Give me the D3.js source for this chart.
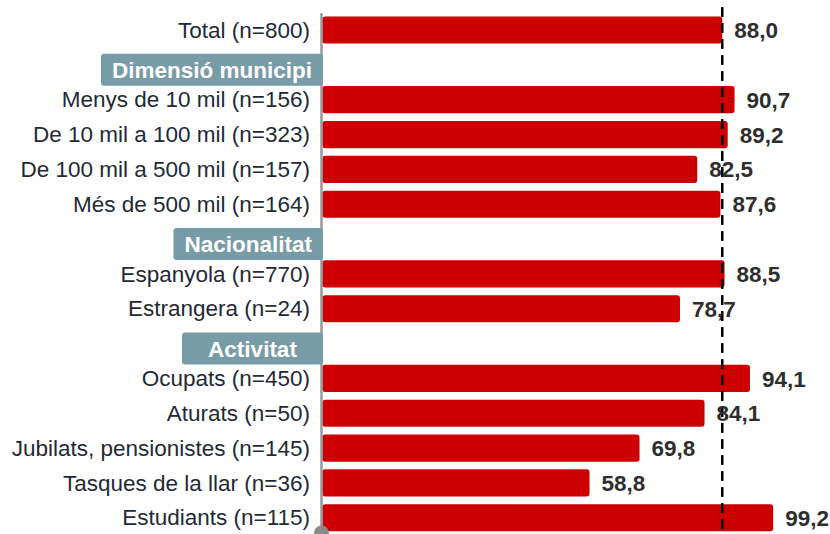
<!DOCTYPE html>
<html>
<head>
<meta charset="utf-8">
<script src="https://cdn.jsdelivr.net/npm/d3@7"></script>
<style>
  body { margin: 0; background: #fff; }
  svg { display: block; font-family: "Liberation Sans", Arial, sans-serif; }
</style>
</head>
<body>
<script>
// rows in display order, group headers included
var categories = [
  "Total (n=800)",
  "Dimensió municipi",
  "Menys de 10 mil (n=156)",
  "De 10 mil a 100 mil (n=323)",
  "De 100 mil a 500 mil (n=157)",
  "Més de 500 mil (n=164)",
  "Nacionalitat",
  "Espanyola (n=770)",
  "Estrangera (n=24)",
  "Activitat",
  "Ocupats (n=450)",
  "Aturats (n=50)",
  "Jubilats, pensionistes (n=145)",
  "Tasques de la llar (n=36)",
  "Estudiants (n=115)"
];
var groups = ["Dimensió municipi", "Nacionalitat", "Activitat"];
var values = [88.0, null, 90.7, 89.2, 82.5, 87.6, null, 88.5, 78.7, null, 94.1, 84.1, 69.8, 58.8, 99.2];
var reference = 88.0;

var w = 830, h = 534;
var axisX = 321;
var fontSize = 22.5;

var svg = d3.select("body").append("svg")
  .attr("width", w)
  .attr("height", h);

var x = d3.scaleLinear().domain([0, 100]).range([322.3, 776.8]);
var y = d3.scaleBand().domain(categories).range([12.6, 535.2])
  .paddingInner(0.22).paddingOuter(0.11);

var fmt = function(v) { return d3.format(".1f")(v).replace(".", ","); };

var rows = categories.map(function(c, i) { return {cat: c, value: values[i]}; });
var bars = rows.filter(function(d) { return d.value != null; });

// bars
svg.append("g").selectAll("rect")
  .data(bars)
  .enter().append("rect")
    .attr("x", x(0))
    .attr("y", function(d) { return y(d.cat); })
    .attr("width", function(d) { return x(d.value) - x(0); })
    .attr("height", y.bandwidth())
    .attr("rx", 3)
    .attr("fill", "#cc0000");

// category axis
var axis = svg.append("g")
  .attr("transform", "translate(" + axisX + ",0)")
  .call(d3.axisLeft(y).tickSize(0).tickPadding(11)
    .tickFormat(function(c) { return groups.indexOf(c) >= 0 ? "" : c; }));
axis.select(".domain").attr("stroke", "#999").attr("stroke-width", 2.5);
axis.selectAll("text")
  .attr("font-size", fontSize)
  .attr("font-family", "Liberation Sans, Arial, sans-serif")
  .attr("fill", "#1f2a36")
  .attr("dy", "0.34em");

svg.append("circle")
  .attr("cx", axisX + 0.5)
  .attr("cy", 533)
  .attr("r", 7.5)
  .attr("fill", "#8a8a8a");

// group headers
var hdr = svg.append("g").selectAll("g")
  .data(groups)
  .enter().append("g")
    .attr("transform", function(g) { return "translate(0," + (y(g) + y.bandwidth() / 2 + 5) + ")"; });
hdr.append("text")
  .attr("font-size", fontSize)
  .attr("font-weight", "bold")
  .attr("fill", "#fff")
  .attr("text-anchor", "middle")
  .attr("dy", "0.36em")
  .text(function(g) { return g; })
  .each(function(g) {
    var tw = this.getComputedTextLength();
    var bw = Math.max(tw + 22, 141);
    var left = axisX + 2 - bw;
    d3.select(this).attr("x", left + bw / 2);
    d3.select(this.parentNode).insert("rect", "text")
      .attr("x", left)
      .attr("y", -16)
      .attr("width", bw)
      .attr("height", 32)
      .attr("rx", 3)
      .attr("fill", "#789ca7");
  });

// reference line
svg.append("line")
  .attr("x1", x(reference)).attr("x2", x(reference))
  .attr("y1", 7).attr("y2", h)
  .attr("stroke", "#000")
  .attr("stroke-width", 2.5)
  .attr("stroke-dasharray", "10,6");

// value labels
svg.append("g").selectAll("text")
  .data(bars)
  .enter().append("text")
    .attr("x", function(d) { return x(d.value) + 12; })
    .attr("y", function(d) { return y(d.cat) + y.bandwidth() / 2; })
    .attr("dy", "0.36em")
    .attr("font-size", fontSize)
    .attr("font-weight", "bold")
    .attr("fill", "#2e2e2e")
    .text(function(d) { return fmt(d.value); });
</script>
</body>
</html>
